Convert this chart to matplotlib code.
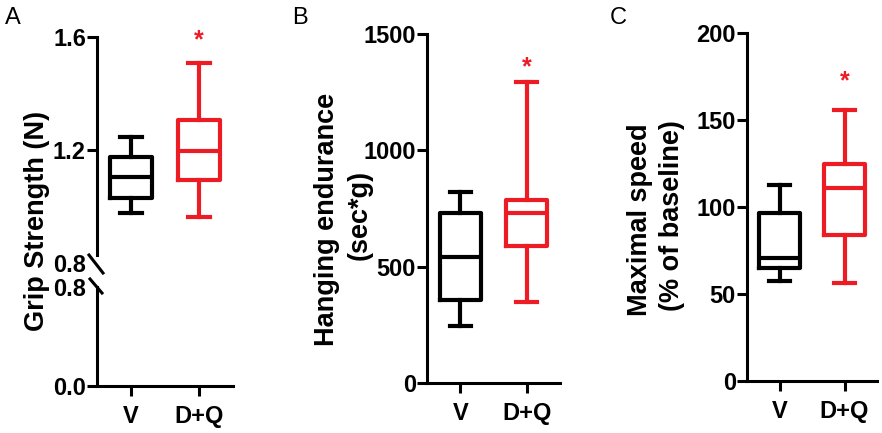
import matplotlib
matplotlib.use("Agg")
import matplotlib.pyplot as plt
from matplotlib.lines import Line2D

plt.rcParams['font.family'] = ['Liberation Sans', 'DejaVu Sans']
plt.rcParams['font.weight'] = 'bold'

groups = ['V', 'D+Q']
colors = ['black', '#ED1C24']

# box stats per panel: whisker low, Q1, median, Q3, whisker high  (V, D+Q)
grip_lo = [0.977, 0.963]
grip_q1 = [1.03, 1.094]
grip_med = [1.104, 1.196]
grip_q3 = [1.175, 1.306]
grip_hi = [1.246, 1.508]

hang_lo = [245, 348]
hang_q1 = [357, 589]
hang_med = [541, 730]
hang_q3 = [730, 786]
hang_hi = [821, 1294]

speed_lo = [57.5, 56.5]
speed_q1 = [65, 84]
speed_med = [70.7, 111]
speed_q3 = [96.6, 125]
speed_hi = [112.6, 156]

# significance star heights (D+Q)
star_y = [1.59, 1355, 172]

W, H = 882, 433
fig = plt.figure(figsize=(W / 100, H / 100), dpi=100)

LW = 3.0


def px(x0, y0, x1, y1):
    # pixel box -> figure fraction rect
    return [x0 / W, 1 - y1 / H, (x1 - x0) / W, (y1 - y0) / H]


def draw_boxes(ax, lo, q1, med, q3, hi):
    for i, c in enumerate(colors):
        st = [dict(whislo=lo[i], q1=q1[i], med=med[i], q3=q3[i], whishi=hi[i], fliers=[])]
        ax.bxp(st, positions=[i + 1], widths=0.62, capwidths=0.31, showfliers=False,
               boxprops=dict(color=c, linewidth=LW),
               whiskerprops=dict(color=c, linewidth=LW),
               capprops=dict(color=c, linewidth=LW),
               medianprops=dict(color=c, linewidth=LW),
               manage_ticks=False)


def style(ax, show_x=True):
    ax.spines['top'].set_visible(False)
    ax.spines['right'].set_visible(False)
    ax.spines['left'].set_linewidth(2.2)
    ax.spines['bottom'].set_linewidth(2.2)
    ax.tick_params(axis='y', direction='out', length=7, width=2.2, pad=1, labelsize=17)
    ax.tick_params(axis='x', direction='out', length=7, width=2.2, pad=7, labelsize=17)
    ax.set_xlim(0.5, 2.5)
    if show_x:
        ax.set_xticks([1, 2])
        ax.set_xticklabels(groups)
    else:
        ax.spines['bottom'].set_visible(False)
        ax.set_xticks([])
    ax.patch.set_visible(False)


def ylab(x, y, s):
    fig.text(x / W, 1 - y / H, s, rotation=90, ha='center', va='center', fontsize=19.5)


# ---- panel A (broken axis) ----
axA_top = fig.add_axes(px(97, 37, 233, 263))
axA_bot = fig.add_axes(px(97, 287, 233, 386))
draw_boxes(axA_top, grip_lo, grip_q1, grip_med, grip_q3, grip_hi)
style(axA_top, show_x=False)
style(axA_bot)
axA_top.set_ylim(0.8, 1.6)
axA_top.set_yticks([0.8, 1.2, 1.6])
axA_top.set_yticklabels(['0.8', '1.2', '1.6'])
axA_top.spines['left'].set_bounds(0.83, 1.6)
axA_top.yaxis.get_major_ticks()[0].tick1line.set_visible(False)
axA_bot.set_ylim(0, 0.8)
axA_bot.set_yticks([0, 0.8])
axA_bot.set_yticklabels(['0.0', '0.8'])
axA_bot.yaxis.get_major_ticks()[1].tick1line.set_visible(False)
axA_top.text(2, star_y[0], '*', color=colors[1], ha='center', va='center', fontsize=18,
             clip_on=False)
for (x0, y0, x1, y1) in [(89, 255, 103, 273), (90, 279, 102, 293)]:
    fig.add_artist(Line2D([x0 / W, x1 / W], [1 - y0 / H, 1 - y1 / H], color='black',
                          linewidth=2.2, transform=fig.transFigure))
ylab(37, 221, 'Grip Strength (N)')

# ---- panel B ----
axB = fig.add_axes(px(427, 34, 560, 383))
draw_boxes(axB, hang_lo, hang_q1, hang_med, hang_q3, hang_hi)
style(axB)
axB.set_ylim(0, 1500)
axB.set_yticks([0, 500, 1000, 1500])
axB.text(2, star_y[1], '*', color=colors[1], ha='center', va='center', fontsize=18)
ylab(327, 219, 'Hanging endurance')
ylab(360, 215, '(sec*g)')

# ---- panel C ----
axC = fig.add_axes(px(747, 33, 877, 381))
draw_boxes(axC, speed_lo, speed_q1, speed_med, speed_q3, speed_hi)
style(axC)
axC.set_ylim(0, 200)
axC.set_yticks([0, 50, 100, 150, 200])
axC.text(2, star_y[2], '*', color=colors[1], ha='center', va='center', fontsize=18)
ylab(640, 220, 'Maximal speed')
ylab(672, 216, '(% of baseline)')

# panel letters
for lbl, x in [('A', 5), ('B', 292), ('C', 610)]:
    fig.text(x / W, 1 - 7 / H, lbl, ha='left', va='top', fontsize=17, fontweight='normal')

fig.savefig('out.png', dpi=100)
